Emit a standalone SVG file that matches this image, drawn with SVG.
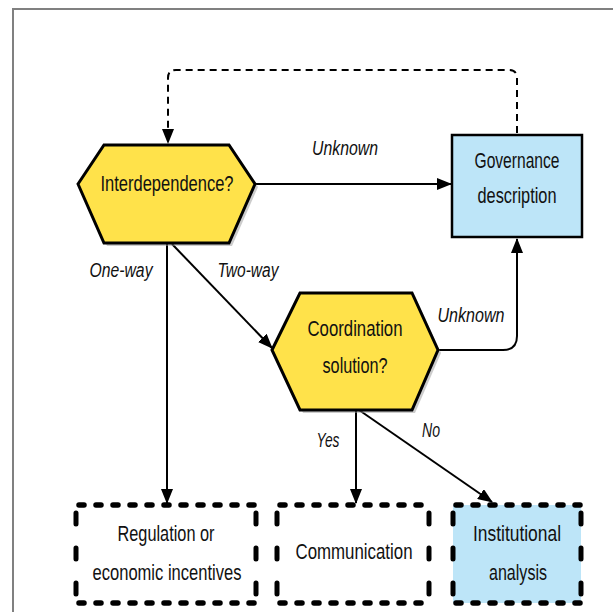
<svg xmlns="http://www.w3.org/2000/svg" width="613" height="612" viewBox="0 0 613 612">
<defs>
<style>
.frame{fill:none;stroke:#808080;stroke-width:2}
.hex{fill:#FFE24A;stroke:#000;stroke-width:3;stroke-linejoin:miter}
.shadow{fill:#9a9a9a;opacity:0.5}
.gov{fill:#BDE5F8;stroke:#000;stroke-width:2.5}
.dbox{fill:#fff;stroke:none}
.dboxb{fill:#BDE5F8;stroke:none}
.dh{fill:none;stroke:#000;stroke-width:5.5;stroke-dasharray:5 12;stroke-linecap:round}
.dv{fill:none;stroke:#000;stroke-width:5;stroke-dasharray:11 24;stroke-linecap:round}
.conn{fill:none;stroke:#000;stroke-width:2}
.loop{fill:none;stroke:#000;stroke-width:2;stroke-dasharray:7 5}
.t{font-family:"Liberation Sans",Arial,sans-serif;font-size:22px;fill:#111;text-anchor:middle}
.l{font-family:"Liberation Sans",Arial,sans-serif;font-style:italic;font-size:20px;fill:#111;text-anchor:middle}
</style>
<marker id="ah" markerWidth="15" markerHeight="12" refX="14" refY="6" orient="auto" markerUnits="userSpaceOnUse">
<path d="M0,0 L15,6 L0,12 Z" fill="#000"/>
</marker>
</defs>
<rect width="613" height="612" fill="#fff"/>
<path class="frame" d="M13,613 L13,9 L614,9"/>

<g id="connectors">
<path class="loop" d="M517,133 L517,78 Q517,70 509,70 L176,70 Q168,70 168,78 L168,143" marker-end="url(#ah)"/>
<path class="conn" d="M255,184 L451,184" marker-end="url(#ah)"/>
<path class="conn" d="M172,244 L272,348" marker-end="url(#ah)"/>
<path class="conn" d="M167,244 L167,503" marker-end="url(#ah)"/>
<path class="conn" d="M438,350 L503,350 Q517,350 517,336 L517,239" marker-end="url(#ah)"/>
<path class="conn" d="M356,410 L356,503" marker-end="url(#ah)"/>
<path class="conn" d="M359,410 L492,502" marker-end="url(#ah)"/>
<text class="l" x="345" y="155" textLength="66" lengthAdjust="spacingAndGlyphs">Unknown</text>
<text class="l" x="121" y="277" textLength="63" lengthAdjust="spacingAndGlyphs">One-way</text>
<text class="l" x="248" y="277" textLength="61" lengthAdjust="spacingAndGlyphs">Two-way</text>
<text class="l" x="471" y="322" textLength="67" lengthAdjust="spacingAndGlyphs">Unknown</text>
<text class="l" x="328" y="447" textLength="23" lengthAdjust="spacingAndGlyphs">Yes</text>
<text class="l" x="431" y="437" textLength="18" lengthAdjust="spacingAndGlyphs">No</text>
</g>

<g id="interdependence">
<polygon class="shadow" points="81,187 107,148 232,148 258,187 232,246 107,246"/>
<polygon class="hex" points="78,184 104,145 229,145 255,184 229,243 104,243"/>
<text class="t" x="167" y="191" textLength="133" lengthAdjust="spacingAndGlyphs">Interdependence?</text>
</g>

<g id="governance">
<rect class="gov" x="452" y="135" width="130" height="102"/>
<text class="t" x="517" y="168" textLength="85" lengthAdjust="spacingAndGlyphs">Governance</text>
<text class="t" x="517" y="203" textLength="79" lengthAdjust="spacingAndGlyphs">description</text>
</g>

<g id="coordination">
<polygon class="shadow" points="275,353 303,296 415,296 441,353 415,413 303,413"/>
<polygon class="hex" points="272,350 300,293 412,293 438,350 412,410 300,410"/>
<text class="t" x="355" y="336" textLength="95" lengthAdjust="spacingAndGlyphs">Coordination</text>
<text class="t" x="355" y="373" textLength="65" lengthAdjust="spacingAndGlyphs">solution?</text>
</g>

<g id="regulation">
<rect class="dbox" x="76" y="505" width="180" height="98"/>
<path class="dh" d="M79,505 L256,505 M79,603 L256,603"/>
<path class="dv" d="M76,513 L76,603 M256,513 L256,603"/>
<text class="t" x="166" y="541" textLength="97" lengthAdjust="spacingAndGlyphs">Regulation or</text>
<text class="t" x="167" y="580" textLength="149" lengthAdjust="spacingAndGlyphs">economic incentives</text>
</g>

<g id="communication">
<rect class="dbox" x="277" y="505" width="152" height="98"/>
<path class="dh" d="M280,505 L429,505 M280,603 L429,603"/>
<path class="dv" d="M277,513 L277,603 M429,513 L429,603"/>
<text class="t" x="354" y="559" textLength="117" lengthAdjust="spacingAndGlyphs">Communication</text>
</g>

<g id="institutional">
<rect class="dboxb" x="453" y="505" width="128" height="98"/>
<path class="dh" d="M456,505 L581,505 M456,603 L581,603"/>
<path class="dv" d="M453,513 L453,603 M581,513 L581,603"/>
<text class="t" x="517" y="541" textLength="88" lengthAdjust="spacingAndGlyphs">Institutional</text>
<text class="t" x="518" y="580" textLength="58" lengthAdjust="spacingAndGlyphs">analysis</text>
</g>
</svg>
